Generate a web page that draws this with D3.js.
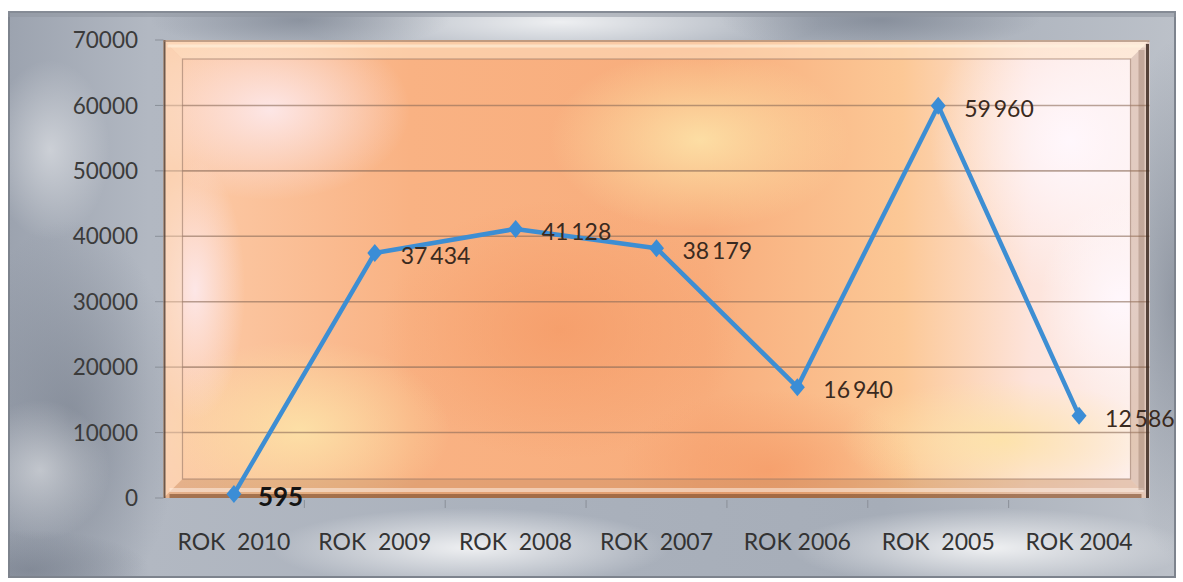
<!DOCTYPE html>
<html><head><meta charset="utf-8">
<script src="https://cdn.jsdelivr.net/npm/d3@7"></script>
<style>html,body{margin:0;padding:0;background:#fff;}svg{display:block;}text{font-family:Lato,"Open Sans",sans-serif;}</style>
</head><body>
<svg id="c" width="1183" height="582"></svg>
<script>
const categories = ["ROK  2010","ROK  2009","ROK  2008","ROK  2007","ROK 2006","ROK  2005","ROK 2004"];
const values = [595, 37434, 41128, 38179, 16940, 59960, 12586];
const valueLabels = ["595","37\u2009434","41\u2009128","38\u2009179","16\u2009940","59\u2009960","12\u2009586"];
const yTicks = [0,10000,20000,30000,40000,50000,60000,70000];

const svg = d3.select("#c");
const L=163.5,R=1149.5,T=40,B=498;
const bev=19;
const x = d3.scaleBand().domain(categories).range([L,R]);
const y = d3.scaleLinear().domain([0,70000]).range([B,T]);
const defs = svg.append("defs");

const bg = defs.append("linearGradient").attr("id","bg").attr("x1",0).attr("y1",0).attr("x2",1).attr("y2",0);
[[0,"#9ca3af"],[0.12,"#b2b8c2"],[0.45,"#aab1bc"],[0.75,"#a6adb8"],[1,"#bcc1c9"]].forEach(s=>bg.append("stop").attr("offset",s[0]).attr("stop-color",s[1]));
function radial(id,c,op){const g=defs.append("radialGradient").attr("id",id);g.append("stop").attr("offset",0).attr("stop-color",c).attr("stop-opacity",op);g.append("stop").attr("offset",1).attr("stop-color",c).attr("stop-opacity",0);}
radial("wspot","#ffffff",0.8);
radial("wsoft","#ffffff",0.45);
radial("dspot","#6f7785",0.55);
radial("pink","#fde8ea",0.95);
radial("white","#fff7fc",1);
radial("deep","#f59a66",0.75);
radial("yel","#fde3a8",0.9);

svg.append("rect").attr("x",8).attr("y",11).attr("width",1168).attr("height",567).attr("fill","url(#bg)");
defs.append("clipPath").attr("id","outclip").append("rect").attr("x",8).attr("y",11).attr("width",1168).attr("height",567);
const g0 = svg.append("g").attr("clip-path","url(#outclip)");
[[560,22,260,40,"wspot"],[70,420,110,200,"dspot"],[470,548,200,40,"wspot"],[990,548,200,40,"wspot"],[1175,300,60,260,"dspot"],[40,470,70,70,"wsoft"],[50,150,60,90,"wsoft"],[300,20,150,30,"dspot"],[880,20,160,30,"dspot"],[30,570,120,40,"dspot"]].forEach(d=>{
  g0.append("ellipse").attr("cx",d[0]).attr("cy",d[1]).attr("rx",d[2]).attr("ry",d[3]).attr("fill","url(#"+d[4]+")");
});
svg.append("rect").attr("x",9).attr("y",12).attr("width",1166).attr("height",565).attr("fill","none").attr("stroke","#7d838d").attr("stroke-width",2);
svg.append("rect").attr("x",8).attr("y",11).attr("width",1168).attr("height",6).attr("fill","#8e949e").attr("opacity",0.5);

const pg = defs.append("linearGradient").attr("id","pg").attr("x1",0).attr("y1",0).attr("x2",1).attr("y2",0);
[[0,"#fcccaa"],[0.25,"#f9b283"],[0.55,"#f8ad7c"],[0.75,"#fcc896"],[0.88,"#fde4dc"],[1,"#fdf1ee"]].forEach(s=>pg.append("stop").attr("offset",s[0]).attr("stop-color",s[1]));
svg.append("rect").attr("x",L).attr("y",T).attr("width",R-L).attr("height",B-T).attr("fill","url(#pg)");
defs.append("clipPath").attr("id","pclip").append("rect").attr("x",L).attr("y",T).attr("width",R-L).attr("height",B-T);
const gp = svg.append("g").attr("clip-path","url(#pclip)");
[[270,110,140,90,"pink"],[560,330,180,130,"deep"],[770,470,150,80,"deep"],[300,430,150,90,"yel"],[1070,140,140,150,"white"],[1120,300,80,100,"white"],[1000,440,160,60,"yel"],[700,140,150,90,"yel"],[195,290,50,130,"pink"]].forEach(d=>{
  gp.append("ellipse").attr("cx",d[0]).attr("cy",d[1]).attr("rx",d[2]).attr("ry",d[3]).attr("fill","url(#"+d[4]+")");
});

svg.append("g").selectAll("line").data(yTicks.filter(v=>v>0&&v<70000)).join("line")
  .attr("x1",L).attr("x2",R).attr("y1",d=>y(d)).attr("y2",d=>y(d))
  .attr("stroke","#8a6a58").attr("stroke-opacity",0.6).attr("stroke-width",1.6);

const bevels = [
  {pts:[[L,T],[R,T],[R-bev,T+bev],[L+bev,T+bev]], c:"#fde2c4", o:0.55},
  {pts:[[L,T],[L+bev,T+bev],[L+bev,B-bev],[L,B]], c:"#fbd9bd", o:0.45},
  {pts:[[R,T],[R,B],[R-bev,B-bev],[R-bev,T+bev]], c:"#b08060", o:0.35},
  {pts:[[L,B],[L+bev,B-bev],[R-bev,B-bev],[R,B]], c:"#c48a5e", o:0.4}
];
svg.append("g").selectAll("polygon").data(bevels).join("polygon")
  .attr("points",d=>d.pts.map(p=>p.join(",")).join(" ")).attr("fill",d=>d.c).attr("fill-opacity",d=>d.o);
svg.append("line").attr("x1",L+4).attr("x2",R-4).attr("y1",T+6).attr("y2",T+6).attr("stroke","#fff3e0").attr("stroke-width",3).attr("opacity",0.6);
svg.append("line").attr("x1",L+6).attr("x2",R-6).attr("y1",B-8).attr("y2",B-8).attr("stroke","#fff0e6").attr("stroke-width",4).attr("opacity",0.55);
svg.append("line").attr("x1",L+6).attr("x2",R-8).attr("y1",B-2).attr("y2",B-2).attr("stroke","#7a4a2a").attr("stroke-width",4).attr("opacity",0.6);
svg.append("line").attr("x1",R-2).attr("x2",R-2).attr("y1",T+4).attr("y2",B).attr("stroke","#3d2b22").attr("stroke-width",3).attr("opacity",0.85);
svg.append("line").attr("x1",R-8).attr("x2",R-8).attr("y1",T+10).attr("y2",B-8).attr("stroke","#7a5a48").attr("stroke-width",6).attr("opacity",0.3);
svg.append("line").attr("x1",L+1).attr("x2",L+1).attr("y1",T).attr("y2",B).attr("stroke","#4a3a32").attr("stroke-width",2).attr("opacity",0.8);
svg.append("line").attr("x1",L).attr("x2",R).attr("y1",T+1).attr("y2",T+1).attr("stroke","#9a7a66").attr("stroke-width",2).attr("opacity",0.6);
svg.append("rect").attr("x",L+bev).attr("y",T+bev).attr("width",R-L-2*bev).attr("height",B-T-2*bev)
  .attr("fill","none").attr("stroke","#9a7868").attr("stroke-opacity",0.6).attr("stroke-width",1.2);

svg.append("g").selectAll("text").data(yTicks).join("text")
  .attr("x",138).attr("y",d=>y(d)).attr("dy","0.36em").attr("text-anchor","end")
  .attr("font-size",22.5).attr("fill","#3b3b3b").text(d=>d);
svg.append("g").selectAll("line").data(yTicks).join("line")
  .attr("x1",155).attr("x2",L).attr("y1",d=>y(d)).attr("y2",d=>y(d)).attr("stroke","#8a8f98").attr("stroke-width",1);
svg.append("g").selectAll("line").data(categories.slice(1)).join("line")
  .attr("x1",d=>x(d)).attr("x2",d=>x(d)).attr("y1",B+2).attr("y2",B+10).attr("stroke","#8a8f98").attr("stroke-width",1);
svg.append("g").selectAll("text").data(categories).join("text")
  .attr("x",d=>x(d)+x.bandwidth()/2).attr("y",542).attr("dy","0.36em").attr("text-anchor","middle")
  .attr("font-size",23).attr("fill","#333").style("white-space","pre").attr("xml:space","preserve").text(d=>d);

const pts = categories.map((c,i)=>({c,v:values[i],l:valueLabels[i],i}));
const cx = d=>x(d.c)+x.bandwidth()/2;
svg.append("path").datum(pts).attr("fill","none").attr("stroke","#3d8ed3").attr("stroke-width",4.5).attr("stroke-linejoin","round")
  .attr("d",d3.line().x(cx).y(d=>y(d.v)));
svg.append("g").selectAll("path").data(pts).join("path")
  .attr("transform",d=>`translate(${cx(d)},${y(d.v)})`)
  .attr("d","M0,-9L7.5,0L0,9L-7.5,0Z").attr("fill","#3b8dd6");
svg.append("g").selectAll("text").data(pts).join("text")
  .attr("x",d=>cx(d)+(d.i===0?24:26)).attr("y",d=>y(d.v)+3).attr("dy","0.36em")
  .attr("font-size",d=>d.i===0?26:23).attr("font-weight",d=>d.i===0?"bold":"normal")
  .attr("fill",d=>d.i===0?"#141414":"#3a2a20").text(d=>d.l);
</script>
</body></html>
